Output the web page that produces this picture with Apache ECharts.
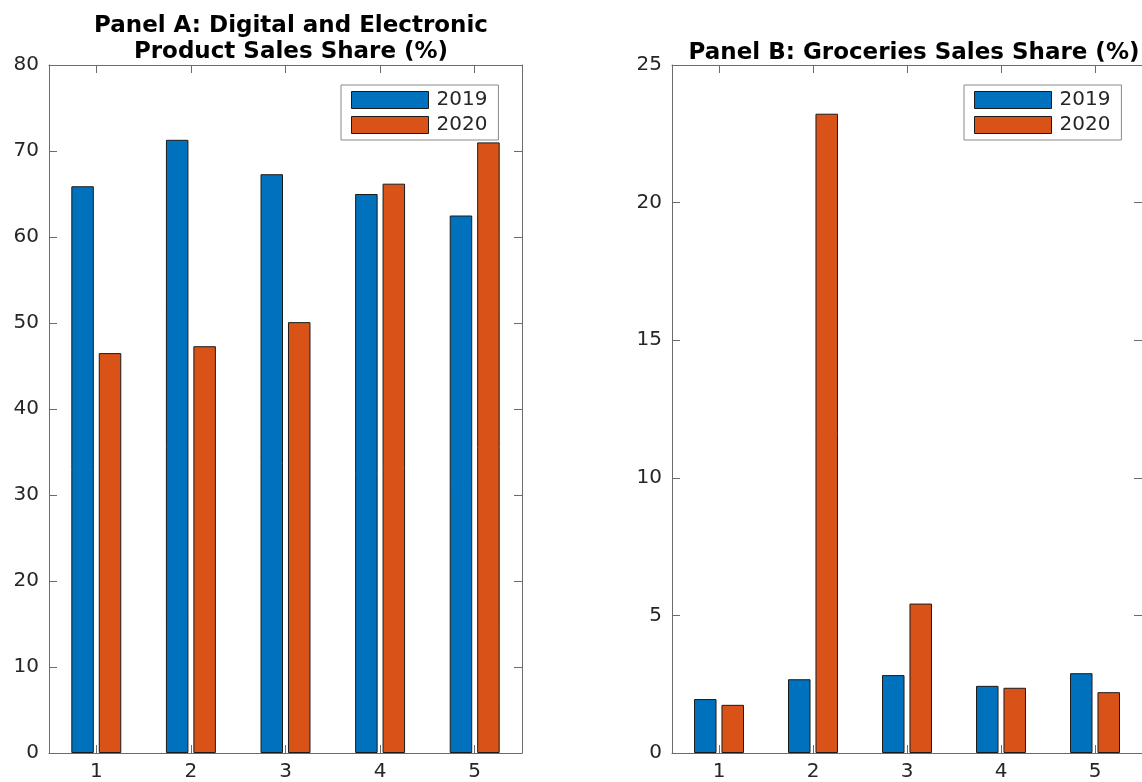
<!DOCTYPE html>
<html>
<head>
<meta charset="utf-8">
<script src="https://cdn.jsdelivr.net/npm/echarts@6/dist/echarts.min.js"></script>
<style>
html,body{margin:0;padding:0;background:#fff;}
#c{width:1142px;height:782px;}
</style>
</head>
<body>
<div id="c"></div>
<script>
const categories = ['1', '2', '3', '4', '5'];
const seriesNames = ['2019', '2020'];
const digital2019 = [65.9, 71.3, 67.3, 65.0, 62.5];
const digital2020 = [46.5, 47.3, 50.1, 66.2, 71.0];
const grocery2019 = [1.96, 2.68, 2.83, 2.44, 2.90];
const grocery2020 = [1.75, 23.23, 5.43, 2.37, 2.21];
const titleA = 'Panel A: Digital and Electronic\nProduct Sales Share (%)';
const titleB = 'Panel B: Groceries Sales Share (%)';

const FONT = '"DejaVu Sans", "Liberation Sans", Arial, sans-serif';
const AX = '#6b6b6b';
const TXT = '#262626';
const BLUE = '#0072BD';
const ORANGE = '#D95319';

const chart = echarts.init(document.getElementById('c'), null, {renderer: 'canvas'});

function xAx(grid, pos, showLabel) {
  return {
    type: 'category', gridIndex: grid, data: categories, position: pos,
    boundaryGap: true,
    axisLine: {show: true, onZero: false, lineStyle: {color: AX, width: 1}},
    axisTick: {show: true, inside: true, length: 8, alignWithLabel: true, lineStyle: {color: AX}},
    axisLabel: {show: showLabel, color: TXT, fontSize: 20, fontFamily: FONT, margin: 9},
    splitLine: {show: false}
  };
}
function yAx(grid, pos, max, interval, showLabel) {
  return {
    type: 'value', gridIndex: grid, position: pos, min: 0, max: max, interval: interval,
    axisLine: {show: true, onZero: false, lineStyle: {color: AX, width: 1}},
    axisTick: {show: true, inside: true, length: 8, lineStyle: {color: AX}},
    axisLabel: {show: showLabel, color: TXT, fontSize: 20, fontFamily: FONT, margin: 10},
    splitLine: {show: false}
  };
}
function barSeries(name, data, color, xi, yi) {
  return {
    type: 'bar', name: name, data: data, xAxisIndex: xi, yAxisIndex: yi,
    barWidth: 22.5, barGap: '22%',
    itemStyle: {color: color, borderColor: '#1a1a1a', borderWidth: 1},
    emphasis: {disabled: true}, animation: false
  };
}
function legend(left) {
  return {
    show: true, orient: 'vertical', left: left, top: 85,
    data: seriesNames,
    icon: 'rect',
    itemWidth: 77, itemHeight: 17, itemGap: 5,
    padding: [5, 11, 5, 10],
    borderColor: '#8a8a8a', borderWidth: 1, backgroundColor: '#fff',
    textStyle: {color: TXT, fontSize: 20, lineHeight: 17, fontFamily: FONT, padding: [0, 0, 0, 3]},
    itemStyle: {borderColor: '#1a1a1a', borderWidth: 1},
    selectedMode: false
  };
}

const option = {
  animation: false,
  backgroundColor: '#fff',
  textStyle: {fontFamily: FONT},
  title: [
    {text: titleA, left: 286, top: 8, textAlign: 'center',
     textStyle: {fontSize: 23, fontWeight: 'bold', color: '#000', fontFamily: FONT, lineHeight: 26}},
    {text: titleB, left: 909, top: 35, textAlign: 'center',
     textStyle: {fontSize: 23, fontWeight: 'bold', color: '#000', fontFamily: FONT, lineHeight: 26}}
  ],
  legend: [legend(341), legend(964)],
  grid: [
    {left: 49, top: 65, width: 473, height: 688, containLabel: false},
    {left: 672, top: 65, width: 473, height: 688, containLabel: false}
  ],
  xAxis: [
    xAx(0, 'bottom', true), xAx(0, 'top', false),
    xAx(1, 'bottom', true), xAx(1, 'top', false)
  ],
  yAxis: [
    yAx(0, 'left', 80, 10, true), yAx(0, 'right', 80, 10, false),
    yAx(1, 'left', 25, 5, true), yAx(1, 'right', 25, 5, false)
  ],
  series: [
    barSeries(seriesNames[0], digital2019, BLUE, 0, 0),
    barSeries(seriesNames[1], digital2020, ORANGE, 0, 0),
    barSeries(seriesNames[0], grocery2019, BLUE, 2, 2),
    barSeries(seriesNames[1], grocery2020, ORANGE, 2, 2)
  ]
};
chart.setOption(option);
</script>
</body>
</html>
